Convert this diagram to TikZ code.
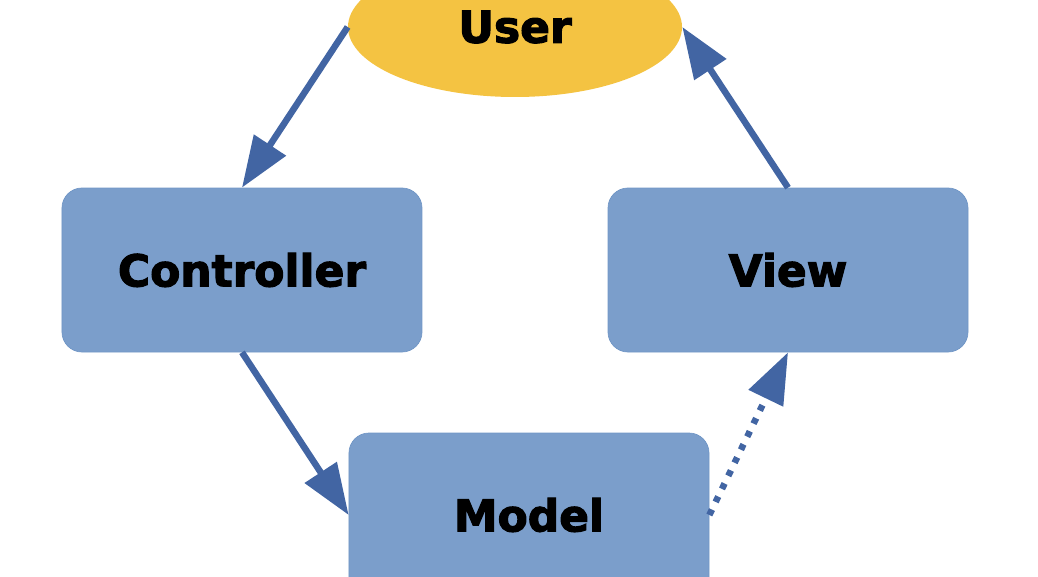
\documentclass[tikz,border=0pt]{standalone}
\usepackage{fontspec}
\setmainfont{DejaVu Sans}[BoldFeatures={FakeBold=2.6}]
\usetikzlibrary{positioning, shapes.geometric, arrows.meta}

\definecolor{boxfill}{HTML}{7B9ECB}
\definecolor{boxline}{HTML}{7096C6}
\definecolor{userfill}{HTML}{F4C342}
\definecolor{arrowblue}{HTML}{4265A3}

\begin{document}
\begin{tikzpicture}[on grid,
    box/.style={rectangle, rounded corners=0.4cm, fill=boxfill, draw=boxline, thin,
      minimum width=7.2cm, minimum height=3.28cm, font=\bfseries\fontsize{25}{30}\selectfont},
    actor/.style={ellipse, fill=userfill, minimum width=6.68cm, minimum height=2.8cm,
      inner sep=0pt, font=\bfseries\fontsize{25}{30}\selectfont},
    flow/.style={draw=arrowblue, line width=0.13cm, -{Triangle[length=1.02cm, width=0.74cm]}}]
    \clip (-10.30,-10.98) rectangle (10.46,0.54);
    \node[actor] (user) {User};
    \node[box] (ctrl) [below left=4.86cm and 5.46cm of user] {Controller};
    \node[box] (view) [right=10.92cm of ctrl] {View};
    \node[box] (model) [below right=4.9cm and 5.74cm of ctrl] {Model};
    \path
    (user.west) edge [flow] (ctrl.north)
    (ctrl.south) edge [flow] (model.west)
    (model.east) edge [flow, dash pattern=on 0.12cm off 0.17cm] (view.south)
    (view.north) edge [flow] (user.east)
    ;
\end{tikzpicture}
\end{document}
